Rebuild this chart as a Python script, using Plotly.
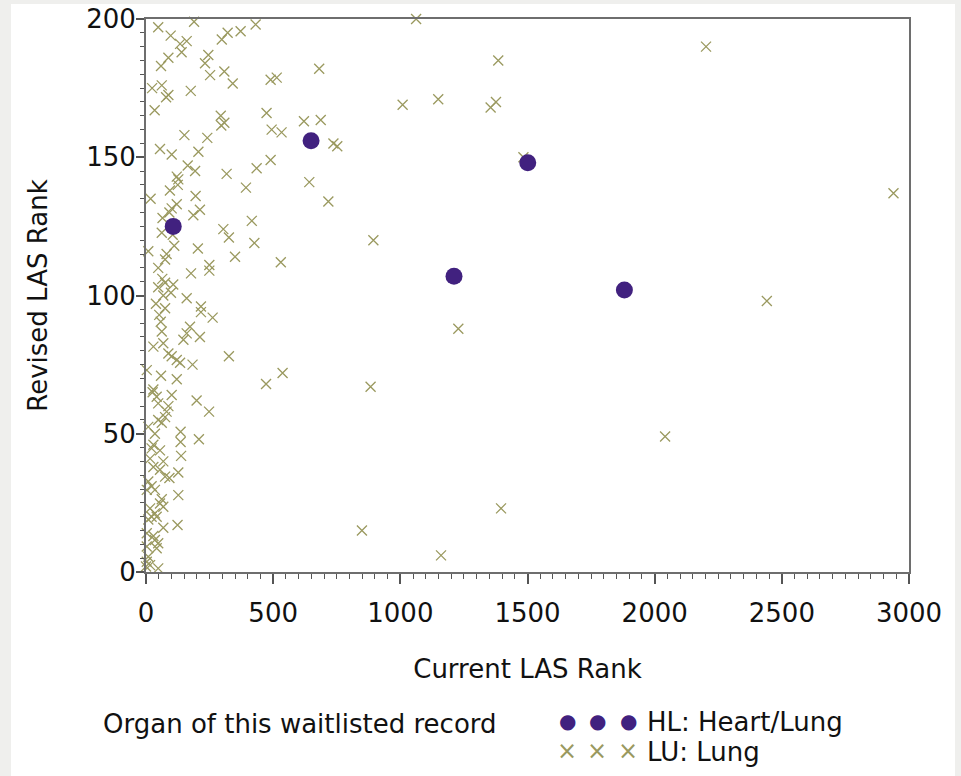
import plotly.graph_objects as go

# HL: Heart/Lung
hl_x = [107, 649, 1211, 1501, 1881]
hl_y = [125, 156, 107, 148, 102]

# LU: Lung
lu_x = [48, 189, 97, 134, 160, 140, 88, 59, 24, 62, 88, 79, 34, 176, 298, 321, 372, 431, 245, 232, 252, 308, 341,
        490, 514, 294, 296, 308, 474, 494, 533, 151, 241, 55, 101, 206, 164, 193, 121, 127, 125, 94, 317, 435, 490,
        393, 195, 18,
        121, 101, 92, 65, 186, 212, 62, 105, 304, 326, 416, 426, 111, 9, 81, 75, 204, 350, 48, 249, 249, 177, 530,
        64, 48, 107, 75, 98, 68, 39, 160, 75, 216, 216, 262, 52, 58, 62, 173, 160, 147, 212, 29, 68, 88, 101, 121,
        134, 183, 326, 3, 59, 121, 537, 472, 29,
        26, 42, 48, 101, 199, 248, 88, 81, 75, 48, 62, 9, 35, 136, 136, 208, 138, 29, 22, 55, 68, 29, 55, 16, 92,
        75, 127, 9, 22, 35, 3, 62, 55, 68, 16, 127, 35, 22, 42, 9, 124, 68, 3, 29, 35, 48, 42, 3, 9, 3, 16, 48, 0,
        1062, 1385, 681, 1009, 1149, 1355, 1376, 621, 687, 737, 752, 1484, 642, 717, 894, 1228, 883, 1396, 849,
        1160, 2202, 2939, 2441, 2041]
lu_y = [197, 199, 194, 191, 192, 188, 186, 183, 175, 176, 172.5, 171.7, 167, 174, 192.6, 195, 195.6, 198, 187, 184,
        179.7, 181, 176.7, 178, 178.8, 165, 161.5, 162.5, 166, 160, 159, 158, 157, 153, 151, 152, 147, 145, 143,
        142, 140, 138, 144, 146, 149, 139, 136, 135,
        133, 131.5, 130, 128, 129, 131, 122.7, 122, 124, 121, 127, 119, 118, 116, 115, 113, 117, 114, 110, 111,
        109, 108, 112, 106, 103, 104, 104.6, 101, 100, 97, 99, 95.4, 96, 94, 92, 93, 90.5, 87, 88.7, 86.3, 84, 85,
        81.5, 82.7, 79, 78, 76.7, 75.7, 75, 78, 73, 71, 69.7, 72, 68, 66,
        65, 63.4, 61, 64, 62, 58, 60, 58, 56, 55, 54, 52.5, 50, 50.7, 47, 48, 42, 46, 44.7, 44, 40, 38, 37, 41, 34,
        34.5, 36, 32.7, 31, 29.7, 29.7, 26.3, 24.8, 23.6, 23, 27.8, 21.2, 20, 20, 19, 17, 16, 14, 13, 11.6, 10.4,
        8.6, 9.2, 5.5, 3.7, 2.5, 1.3, 2,
        200, 185, 182, 169, 171, 168, 170, 163, 163.5, 155, 154, 150, 141, 134, 120, 88, 67, 23, 15, 6, 190, 137,
        98, 49]

x_ticks = [0, 500, 1000, 1500, 2000, 2500, 3000]
y_ticks = [0, 50, 100, 150, 200]

HL_COLOR = "#41217f"
LU_COLOR = "#9a995f"
FONT = "DejaVu Sans"
TXT = "#111111"

fig = go.Figure()
fig.add_trace(go.Scatter(
    x=lu_x, y=lu_y, mode="markers", name="LU: Lung", cliponaxis=False,
    marker=dict(symbol="x-thin", size=10, line=dict(width=1.3, color=LU_COLOR), color=LU_COLOR),
))
fig.add_trace(go.Scatter(
    x=hl_x, y=hl_y, mode="markers", name="HL: Heart/Lung", cliponaxis=False,
    marker=dict(symbol="circle", size=17, color=HL_COLOR, line=dict(width=0)),
))

axis_common = dict(
    showgrid=False, zeroline=False, showline=True, linecolor="#6e6e6e", linewidth=2,
    mirror=True, ticks="outside", tickcolor="#555555", tickwidth=1.5,
    tickfont=dict(family=FONT, size=26, color=TXT),
)

fig.update_xaxes(
    **axis_common, range=[0, 3000], tickvals=x_ticks, ticklen=10, ticklabelstandoff=7,
    minor=dict(dtick=50, ticklen=5, ticks="outside", tickcolor="#555555", tickwidth=1.2),
    title=dict(text="Current LAS Rank", font=dict(family=FONT, size=26, color=TXT), standoff=33),
)
fig.update_yaxes(
    **axis_common, range=[0, 200], tickvals=y_ticks, ticklen=8, ticklabelstandoff=-5,
    minor=dict(dtick=5, ticklen=4, ticks="outside", tickcolor="#555555", tickwidth=1.2),
    title=dict(text="Revised LAS Rank", font=dict(family=FONT, size=26, color=TXT), standoff=31),
)

W, H = 961, 776
ml, mr, mt, mb = 146, 52, 19, 204
pw, ph = W - ml - mr, H - mt - mb


def px(xp):
    return (xp - ml) / pw


def py(yp):
    return (H - mb - yp) / ph


# white page panel over light grey background
fig.add_shape(type="rect", xref="paper", yref="paper", layer="below",
              x0=px(11), x1=px(955), y0=py(780), y1=py(4),
              fillcolor="white", line=dict(width=0))

# legend drawn as text
fig.add_annotation(xref="paper", yref="paper", x=px(300), y=py(724), xanchor="center", yanchor="middle",
                   text="Organ of this waitlisted record", showarrow=False,
                   font=dict(family=FONT, size=26, color=TXT))
for cx in (567, 597, 628):
    fig.add_annotation(xref="paper", yref="paper", x=px(cx), y=py(721), xanchor="center", yanchor="middle",
                       text="●", showarrow=False, font=dict(family=FONT, size=20, color=HL_COLOR))
    fig.add_annotation(xref="paper", yref="paper", x=px(cx), y=py(751), xanchor="center", yanchor="middle",
                       text="×", showarrow=False, font=dict(family=FONT, size=24, color=LU_COLOR))
fig.add_annotation(xref="paper", yref="paper", x=px(645), y=py(722), xanchor="left", yanchor="middle",
                   text="HL: Heart/Lung", showarrow=False, font=dict(family=FONT, size=26, color=TXT))
fig.add_annotation(xref="paper", yref="paper", x=px(645), y=py(752), xanchor="left", yanchor="middle",
                   text="LU: Lung", showarrow=False, font=dict(family=FONT, size=26, color=TXT))

fig.update_layout(
    width=W, height=H, margin=dict(l=ml, r=mr, t=mt, b=mb, autoexpand=False),
    paper_bgcolor="#efefed", plot_bgcolor="white", showlegend=False,
    font=dict(family=FONT),
)

fig.write_html(
    "out.html",
    config={"displayModeBar": False},
    post_script="document.body.style.margin='0';document.body.style.padding='0';"
                "document.documentElement.style.overflow='hidden';"
                "document.body.style.background='#efefed';",
)
